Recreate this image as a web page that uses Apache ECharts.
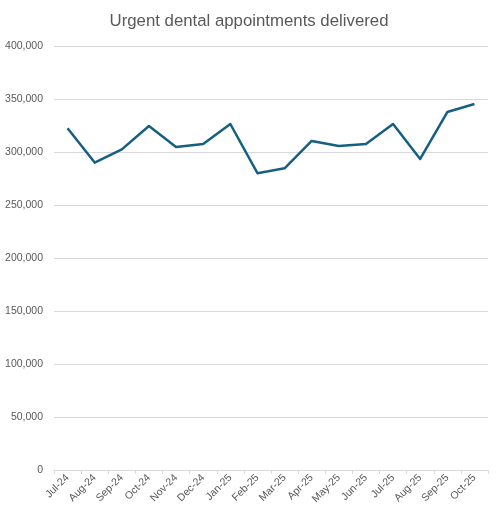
<!DOCTYPE html>
<html>
<head>
<meta charset="utf-8">
<script src="https://cdn.jsdelivr.net/npm/echarts@6/dist/echarts.min.js"></script>
<style>html,body{margin:0;padding:0;background:#fff}#c{width:498px;height:521px}</style>
</head>
<body>
<div id="c"></div>
<script>
const categories = ['Jul-24','Aug-24','Sep-24','Oct-24','Nov-24','Dec-24','Jan-25','Feb-25','Mar-25','Apr-25','May-25','Jun-25','Jul-25','Aug-25','Sep-25','Oct-25'];
const appointments = [322400, 290000, 302500, 324500, 304700, 307500, 326400, 280000, 284600, 310400, 305700, 307500, 326400, 293400, 337700, 345300];
const chartTitle = 'Urgent dental appointments delivered';

const chart = echarts.init(document.getElementById('c'));
chart.setOption({
  animation: false,
  title: {
    text: chartTitle, left: 'center', top: 8,
    textStyle: { fontFamily: 'Liberation Sans, Arial', fontSize: 16.8, fontWeight: 'normal', color: '#595959' }
  },
  grid: { left: 54, right: 10, top: 46, bottom: 51 },
  xAxis: {
    type: 'category', data: categories, boundaryGap: true,
    axisLine: { lineStyle: { color: '#d9d9d9', width: 1 } },
    axisTick: { show: true, alignWithLabel: false, length: 4, lineStyle: { color: '#d9d9d9' } },
    axisLabel: { rotate: 45, interval: 0, color: '#595959', fontSize: 10.5, fontFamily: 'Liberation Sans, Arial', margin: 6 }
  },
  yAxis: {
    type: 'value', min: 0, max: 400000, interval: 50000,
    axisLine: { show: false }, axisTick: { show: false },
    splitLine: { lineStyle: { color: '#d9d9d9', width: 1 } },
    axisLabel: {
      color: '#595959', fontSize: 10.5, fontFamily: 'Liberation Sans, Arial', margin: 11,
      formatter: v => v.toLocaleString('en-US')
    }
  },
  series: [{
    type: 'line', data: appointments, symbol: 'none',
    lineStyle: { color: '#156082', width: 2.5, join: 'round' }
  }]
});
</script>
</body>
</html>
